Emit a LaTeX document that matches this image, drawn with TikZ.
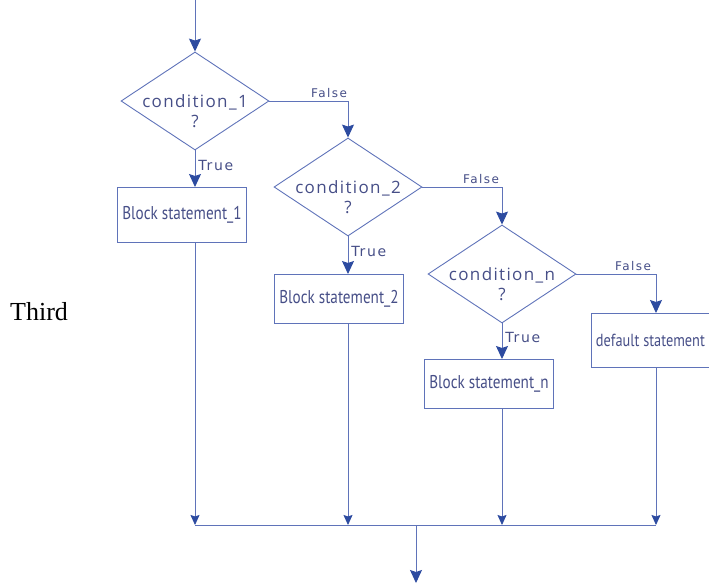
\documentclass[tikz,border=0pt]{standalone}
\usepackage{fontspec}
\setmainfont{Liberation Serif}
\newfontfamily\flowfont[FakeStretch=0.82]{PT Sans}
\newfontfamily\condfont[LetterSpace=8]{Open Sans}
\newfontfamily\lblfont[LetterSpace=12]{DejaVu Sans}
\usetikzlibrary{shapes.geometric,arrows.meta}
\definecolor{linec}{RGB}{95,115,185}
\definecolor{tipc}{RGB}{45,75,160}
\definecolor{textc}{RGB}{70,78,135}
\tikzset{
  flow/.style={draw=linec, line width=0.9pt},
  arr/.style={flow, -{Stealth[width=12pt,length=13pt,inset=2pt,color=tipc]}},
  sarr/.style={flow, -{Stealth[width=9pt,length=10pt,inset=1.5pt,color=tipc]}},
  dec/.style={diamond, draw=linec, line width=0.9pt, inner sep=0pt, aspect=1.5,
              minimum width=148pt, minimum height=98pt},
  dtext/.style={font=\condfont\fontsize{17}{20}\selectfont, text=textc, align=center, inner sep=0pt},
  blk/.style={draw=linec, line width=0.9pt, font=\flowfont\fontsize{18.5}{20}\selectfont, text=textc,
              inner sep=0pt, minimum width=129pt},
  lbl/.style={font=\lblfont\fontsize{14}{16}\selectfont, text=textc, inner sep=0pt},
  flbl/.style={font=\lblfont\fontsize{12}{14}\selectfont, text=textc, inner sep=0pt}
}
\begin{document}
\begin{tikzpicture}[x=1pt,y=-1pt]
\useasboundingbox (0,0) rectangle (709,584);
% start
\coordinate (s) at (195,0);
% decisions
\node[dec] (d1) at (195,101) {};
\node[dtext] (t1) at (195,111) {condition\_1\\?};
\node[dec] (d2) at (348,187) {};
\node[dtext] (t2) at (348,197) {condition\_2\\?};
\node[dec] (d3) at (502,274) {};
\node[dtext] (t3) at (502,284) {condition\_n\\?};
% blocks
\node[blk, anchor=north, minimum height=55pt] (b1) at (182,187) {Block statement\_1};
\node[blk, anchor=north, minimum height=49pt] (b2) at (339,274) {Block statement\_2};
\node[blk, anchor=north, minimum height=49pt] (b3) at (489,359) {Block statement\_n};
\node[blk, anchor=north west, minimum height=54pt, minimum width=118pt, font=\flowfont\fontsize{17.5}{20}\selectfont] (b4) at (591,313) {default statement};
% third
\node[font=\fontsize{26}{30}\selectfont, inner sep=0pt, anchor=base west] (third) at (10,320) {Third};
% top arrow
\draw[arr] (s) -- (d1.north);
% true arrows
\draw[arr] (d1.south) -- (d1.south |- b1.north) node[lbl, pos=0.4, anchor=west, xshift=3pt] (tr1) {True};
\draw[arr] (d2.south) -- (d2.south |- b2.north) node[lbl, pos=0.4, anchor=west, xshift=3pt] (tr2) {True};
\draw[arr] (d3.south) -- (d3.south |- b3.north) node[lbl, pos=0.4, anchor=west, xshift=3pt] (tr3) {True};
% false arrows
\coordinate (f1) at (d2.north |- d1.east);
\coordinate (f2) at (d3.north |- d2.east);
\coordinate (f3) at (656,0 |- d3.east);
\draw[arr] (d1.east) -- (f1) -- (d2.north);
\node[flbl, anchor=south] (fl1) at (329,98) {False};
\draw[arr] (d2.east) -- (f2) -- (d3.north);
\node[flbl, anchor=south] (fl2) at (481,184) {False};
\draw[arr] (d3.east) -- (f3) -- (f3 |- b4.north);
\node[flbl, anchor=south] (fl3) at (633,271) {False};
% join
\coordinate (j1) at (195,525);
\coordinate (j2) at (348,525);
\coordinate (j3) at (502,525);
\coordinate (j4) at (656,525);
\coordinate (jm) at (416,525);
\coordinate (e) at (416,583);
\draw[sarr] (b1.south -| j1) -- (j1);
\draw[sarr] (b2.south -| j2) -- (j2);
\draw[sarr] (b3.south -| j3) -- (j3);
\draw[sarr] (b4.south -| j4) -- (j4);
\draw[flow] (j1) -- (j4);
\draw[arr] (jm) -- (e);
\end{tikzpicture}
\end{document}
